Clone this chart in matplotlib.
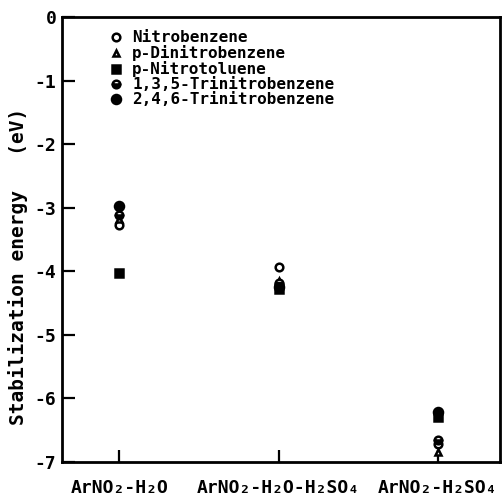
import matplotlib
matplotlib.use("Agg")
import matplotlib.pyplot as plt
import numpy as np

plt.rcParams['font.family'] = ['DejaVu Sans Mono', 'Liberation Mono']
plt.rcParams['font.weight'] = 'bold'

categories = ['ArNO₂-H₂O', 'ArNO₂-H₂O-H₂SO₄', 'ArNO₂-H₂SO₄']
compounds = ['Nitrobenzene', 'p-Dinitrobenzene', 'p-Nitrotoluene',
             '1,3,5-Trinitrobenzene', '2,4,6-Trinitrobenzene']

nitrobenzene = [-3.28, -3.93, -6.72]
p_dinitrobenzene = [-3.18, -4.15, -6.85]
p_nitrotoluene = [-4.02, -4.28, -6.30]
tnb_135 = [-3.12, -4.18, -6.65]
tnb_246 = [-2.97, -4.25, -6.22]

series = [nitrobenzene, p_dinitrobenzene, p_nitrotoluene, tnb_135, tnb_246]
styles = [
    dict(marker='o', mfc='white', ms=5.5),
    dict(marker='^', mfc='white', ms=4.5),
    dict(marker='s', mfc='black', ms=5.5),
    dict(marker='o', mfc='black', fillstyle='bottom', mfcalt='white', ms=5.5),
    dict(marker='o', mfc='black', ms=6.5),
]

fig = plt.figure(figsize=(5.03, 5.01), dpi=100)
ax = fig.add_axes([0.123, 0.078, 0.871, 0.888])

x = np.arange(len(categories))
for vals, lab, st in zip(series, compounds, styles):
    ax.plot(x, vals, linestyle='none', color='black', mec='black', mew=1.8,
            label=lab, **st)

ax.set_xlim(-0.36, 2.39)
ax.set_ylim(-7, 0)
ax.set_yticks(range(-7, 1))
ax.set_yticklabels([str(v) for v in range(-7, 1)], fontsize=13, fontweight='bold')
ax.set_xticks(x)
ax.set_xticklabels(categories, fontsize=13, fontweight='bold')
ax.tick_params(direction='in', length=9, width=1.6, pad=12)
ax.tick_params(axis='y', pad=4)
for s in ax.spines.values():
    s.set_linewidth(2)

ax.set_ylabel('Stabilization energy   (eV)', fontsize=14, fontweight='bold')
ax.yaxis.set_label_coords(-0.078, 0.44)

ax.legend(loc='upper left', bbox_to_anchor=(0.095, 0.985), frameon=False,
          fontsize=11.5, labelspacing=0.0, handlelength=0.8, handletextpad=0.6,
          borderaxespad=0)

fig.savefig('out.png', dpi=100)
